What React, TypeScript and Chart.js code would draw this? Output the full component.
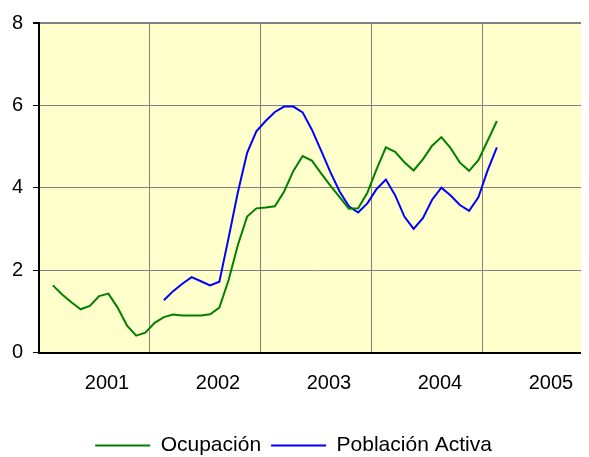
import React, { useEffect, useRef } from 'react';
import { Chart, registerables } from 'chart.js';

Chart.register(...registerables);

// Tick labels (one per year) and the month index where each year's grid line sits
const yearLabels = ['2001', '2002', '2003', '2004', '2005'];
const yearTickMonths = [0, 12, 24, 36, 48];

const seriesNames = ['Ocupación', 'Población Activa'];

// Monthly values; first value sits in month slot `...Start`
const ocupacionStart = 1;
const ocupacion = [
  1.63, 1.41, 1.22, 1.05, 1.13, 1.37, 1.43, 1.09, 0.66, 0.41, 0.48, 0.72,
  0.86, 0.92, 0.9, 0.9, 0.9, 0.93, 1.09, 1.76, 2.61, 3.3, 3.5, 3.52,
  3.55, 3.91, 4.41, 4.77, 4.66, 4.35, 4.05, 3.77, 3.49, 3.5, 3.88, 4.45,
  4.98, 4.87, 4.62, 4.42, 4.69, 5.02, 5.23, 4.96, 4.61, 4.41, 4.67, 5.14,
  5.62,
];

const activaStart = 13;
const activa = [
  1.27, 1.49, 1.67, 1.83, 1.73, 1.63, 1.72, 2.79, 3.89, 4.85, 5.37, 5.62,
  5.84, 5.97, 5.97, 5.83, 5.41, 4.9, 4.38, 3.91, 3.55, 3.4, 3.62, 3.97,
  4.2, 3.82, 3.3, 3.0, 3.26, 3.71, 4.0, 3.81, 3.58, 3.44, 3.77, 4.42,
  4.98,
];

const toPoints = (start: number, vals: number[]) =>
  vals.map((v, k) => ({ x: start + k + 0.5, y: v }));

const FONT = 'Liberation Sans, Arial, sans-serif';

const bgPlugin = {
  id: 'plotBg',
  beforeDraw(chart: any) {
    const { ctx, chartArea } = chart;
    if (!chartArea) return;
    ctx.save();
    ctx.fillStyle = '#FFFFCC';
    ctx.fillRect(chartArea.left, chartArea.top, chartArea.right - chartArea.left, chartArea.bottom - chartArea.top);
    ctx.restore();
  },
};

const legendShift = {
  id: 'legendShift',
  afterLayout(chart: any) {
    const l = chart.legend;
    if (l) {
      l.left -= 5;
      l.right -= 5;
    }
  },
};

export default function App() {
  const ref = useRef<HTMLCanvasElement | null>(null);

  useEffect(() => {
    if (!ref.current) return;
    const chart = new Chart(ref.current, {
      type: 'line',
      data: {
        datasets: [
          {
            label: seriesNames[0],
            data: toPoints(ocupacionStart, ocupacion),
            borderColor: '#008000',
            backgroundColor: '#008000',
            borderWidth: 2,
            pointRadius: 0,
            tension: 0,
            fill: false,
          },
          {
            label: seriesNames[1],
            data: toPoints(activaStart, activa),
            borderColor: '#0000FF',
            backgroundColor: '#0000FF',
            borderWidth: 2,
            pointRadius: 0,
            tension: 0,
            fill: false,
          },
        ],
      },
      options: {
        responsive: false,
        animation: false,
        layout: { padding: { top: 15, left: 0, right: 0, bottom: 0 } },
        plugins: {
          tooltip: { enabled: false },
          legend: {
            position: 'bottom',
            labels: {
              usePointStyle: true,
              pointStyle: 'line',
              pointStyleWidth: 55,
              font: { family: FONT, size: 21 },
              color: '#000',
              padding: 10,
            },
          },
        },
        scales: {
          x: {
            type: 'linear',
            min: 0,
            max: 59.46,
            afterBuildTicks: (s: any) => {
              s.ticks = yearTickMonths.map((v) => ({ value: v }));
            },
            afterFit: (s: any) => {
              s.paddingLeft = 0;
              s.paddingRight = 0;
              s.height = 72.5;
            },
            grid: { color: '#808080', lineWidth: 1, drawTicks: false },
            border: { color: '#000', width: 2 },
            ticks: {
              font: { family: FONT, size: 20 },
              color: '#000',
              padding: 19,
              labelOffset: 68,
              maxRotation: 0,
              autoSkip: false,
              callback: (_v: any, i: number) => yearLabels[i] ?? '',
            },
          },
          y: {
            min: 0,
            max: 8,
            afterFit: (s: any) => {
              s.width = 31;
              s.paddingTop = 0;
              s.paddingBottom = 0;
            },
            grid: {
              color: '#808080',
              tickColor: '#000',
              tickLength: 6,
              lineWidth: (c: any) => (c.tick && c.tick.value === 8 ? 2 : 1),
            },
            border: { color: '#000', width: 2 },
            ticks: {
              stepSize: 2,
              font: { family: FONT, size: 20 },
              color: '#000',
              padding: 10,
            },
          },
        },
      },
      plugins: [bgPlugin, legendShift],
    } as any);
    return () => chart.destroy();
  }, []);

  return (
    <div style={{ width: 581, height: 449, overflow: 'hidden' }}>
      <canvas ref={ref} width={581} height={458} style={{ display: 'block' }} />
    </div>
  );
}
